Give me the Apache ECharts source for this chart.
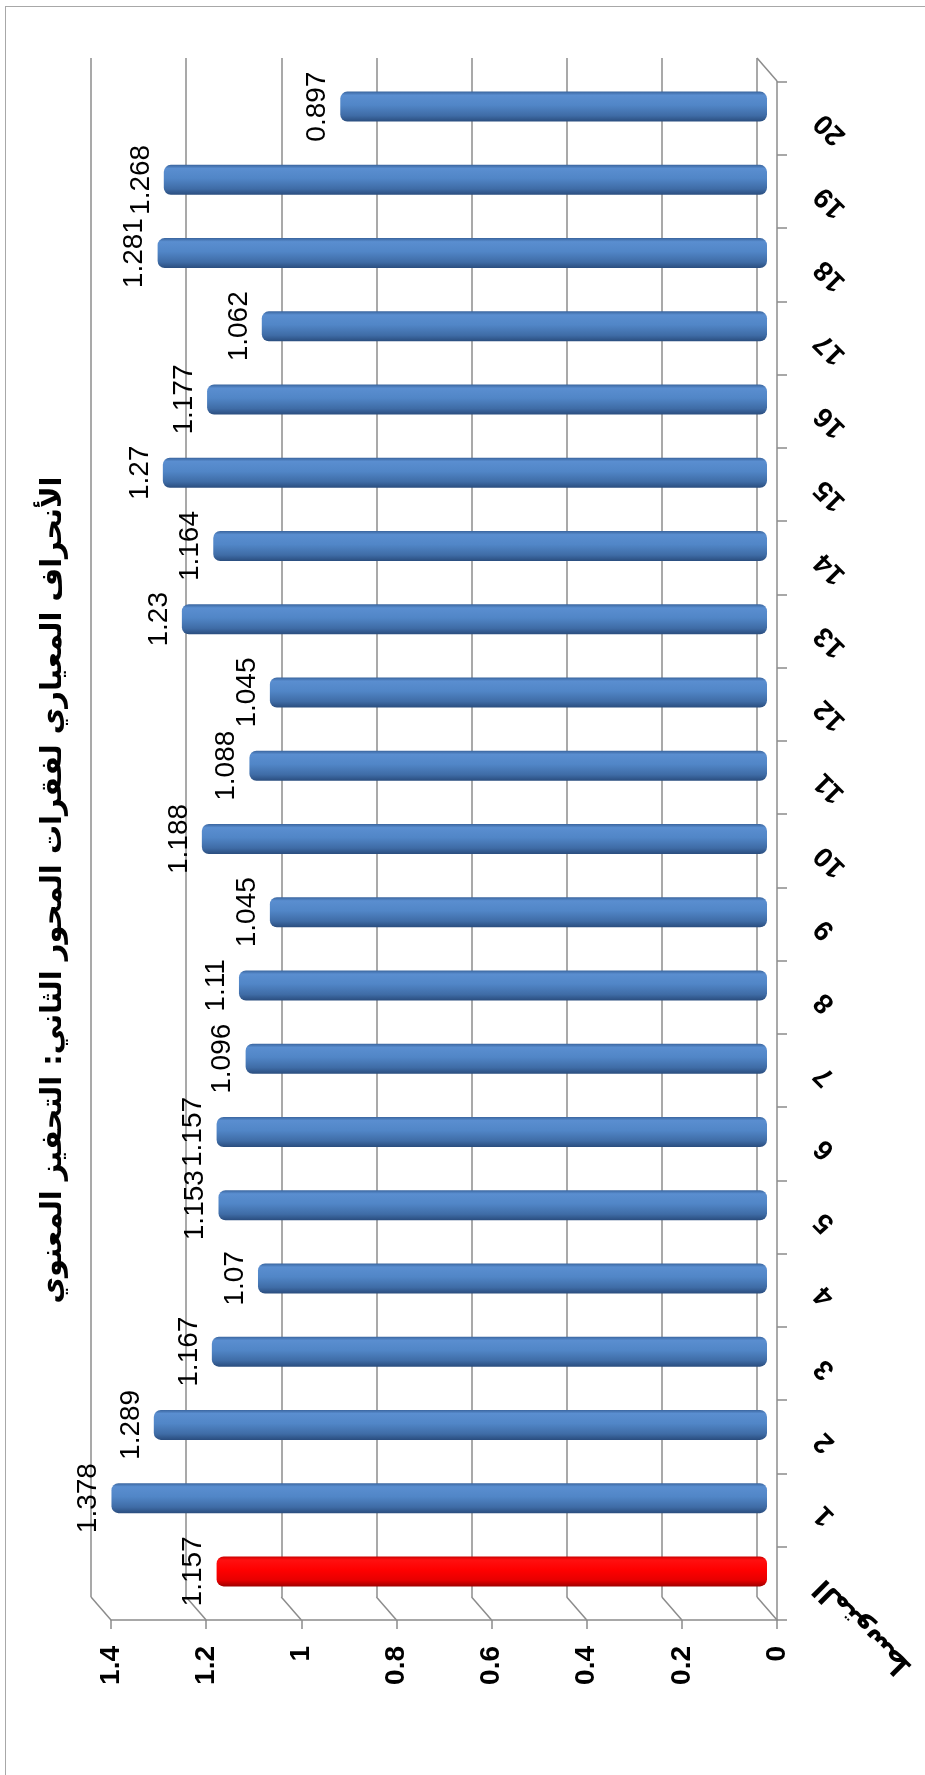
<!DOCTYPE html>
<html><head><meta charset="utf-8">
<script src="https://cdn.jsdelivr.net/npm/echarts@6/dist/echarts.min.js"></script>
<style>
html,body{margin:0;padding:0;background:#fff;}
#wrap{position:relative;width:925px;height:1775px;overflow:hidden;}
#frame{position:absolute;left:5px;top:6px;right:-10px;bottom:-10px;border-left:1.5px solid #a8a8a8;border-top:1.5px solid #a8a8a8;}
#chart{position:absolute;left:0;top:0;width:925px;height:1775px;}
</style></head><body>
<div id="wrap"><div id="frame"></div><div id="chart"></div></div>
<script>
// ---- data ----
const categories = ['المتوسط','1','2','3','4','5','6','7','8','9','10','11','12','13','14','15','16','17','18','19','20'];
const values = [1.157,1.378,1.289,1.167,1.07,1.153,1.157,1.096,1.11,1.045,1.188,1.088,1.045,1.23,1.164,1.27,1.177,1.062,1.281,1.268,0.897];
const valueTicks = [0,0.2,0.4,0.6,0.8,1,1.2,1.4];
const titleText = 'الأنحراف المعياري لفقرات المحور الثاني: التحفيز المعنوي';

// ---- style ----
const GRID_COLOR = '#8c8c8c';
const DX = 20, DY = 23;   // depth offset of the 3D frame (back wall -> front edge)
const blueFill = new echarts.graphic.LinearGradient(0,0,0,1,[
  {offset:0,color:'#3A659E'},{offset:0.12,color:'#5A8ED0'},{offset:0.45,color:'#5186C7'},
  {offset:0.8,color:'#3F6CA6'},{offset:1,color:'#2A4D7E'}]);
const redFill = new echarts.graphic.LinearGradient(0,0,0,1,[
  {offset:0,color:'#C80000'},{offset:0.12,color:'#FF1010'},{offset:0.45,color:'#FF0000'},
  {offset:0.8,color:'#E60000'},{offset:1,color:'#A00000'}]);

const barData = values.map((v,i)=>({value:v,itemStyle:{color: i===0 ? redFill : blueFill}}));
const MAX = valueTicks[valueTicks.length-1];

const chart = echarts.init(document.getElementById('chart'), null, {renderer:'canvas'});
const valueAxisBase = {type:'value', inverse:true, min:0, max:MAX, interval:0.2};
chart.setOption({
  animation:false,
  grid:[
    {left:101, right:158, top:70, bottom:167},   // bars (middle depth)
    {left:91, right:168, top:58, bottom:178},    // back wall
    {left:111, right:148, top:81.5, bottom:155}  // front edges
  ],
  xAxis:[
    Object.assign({gridIndex:0, show:false}, valueAxisBase),
    Object.assign({gridIndex:1, axisLine:{show:false}, axisTick:{show:false}, axisLabel:{show:false},
      splitLine:{show:true, showMinLine:true, showMaxLine:true, lineStyle:{color:GRID_COLOR,width:1.5}}}, valueAxisBase),
    Object.assign({gridIndex:2, position:'bottom',
      axisLine:{show:true, lineStyle:{color:GRID_COLOR,width:1.5}},
      axisTick:{show:true, length:9, lineStyle:{color:GRID_COLOR,width:1.5}},
      splitLine:{show:false},
      axisLabel:{show:true, rotate:90, margin:26, color:'#000', fontSize:28, fontWeight:'bold', fontFamily:'"Liberation Sans", Arial, sans-serif'}}, valueAxisBase)
  ],
  yAxis:[
    {gridIndex:0, type:'category', data:categories, show:false},
    {gridIndex:1, type:'category', data:categories, show:false},
    {gridIndex:2, type:'category', data:categories, position:'right',
      axisLine:{show:true, lineStyle:{color:GRID_COLOR,width:1.5}},
      axisTick:{show:true, length:10, lineStyle:{color:GRID_COLOR,width:1.5}},
      splitLine:{show:false},
      axisLabel:{show:true, interval:0, rotate:135, margin:42, color:'#000', fontSize:28, fontWeight:'bold',
        fontFamily:'"Liberation Sans", "DejaVu Sans", Arial, sans-serif'}}
  ],
  graphic:[{type:'text', x:53, y:890, rotation:Math.PI/2, z:10,
    style:{text:titleText, fill:'#000', font:'bold 29px "DejaVu Sans"', textAlign:'center', textVerticalAlign:'middle'}}],
  series:[
    {type:'custom', xAxisIndex:1, yAxisIndex:1, z:1, silent:true,
      data: valueTicks.map(v=>[v,0]), encode:{x:0,y:1},
      renderItem:function(params, api){
        const v = api.value(0);
        const band = api.size([0,1])[1];
        const b = api.coord([v,0]);
        const yb = b[1] + band/2;
        const st = {stroke:GRID_COLOR, lineWidth:1.5, fill:null};
        const children = [{type:'line', shape:{x1:b[0],y1:yb,x2:b[0]+DX,y2:yb+DY}, style:st}];
        if (v === 0) {
          const t = api.coord([v, categories.length-1]);
          const yt = t[1] - band/2;
          children.push({type:'line', shape:{x1:t[0],y1:yt,x2:t[0]+DX,y2:yt+DY}, style:st});
        }
        return {type:'group', children:children};
      }},
    {type:'bar', xAxisIndex:0, yAxisIndex:0, z:3, barWidth:30, data:barData,
      itemStyle:{borderRadius:7},
      label:{show:true, position:'left', distance:9, rotate:90, align:'center', verticalAlign:'bottom',
        color:'#000', fontSize:28, fontFamily:'"Liberation Sans", Arial, sans-serif'}}
  ]
});
</script>
</body></html>
